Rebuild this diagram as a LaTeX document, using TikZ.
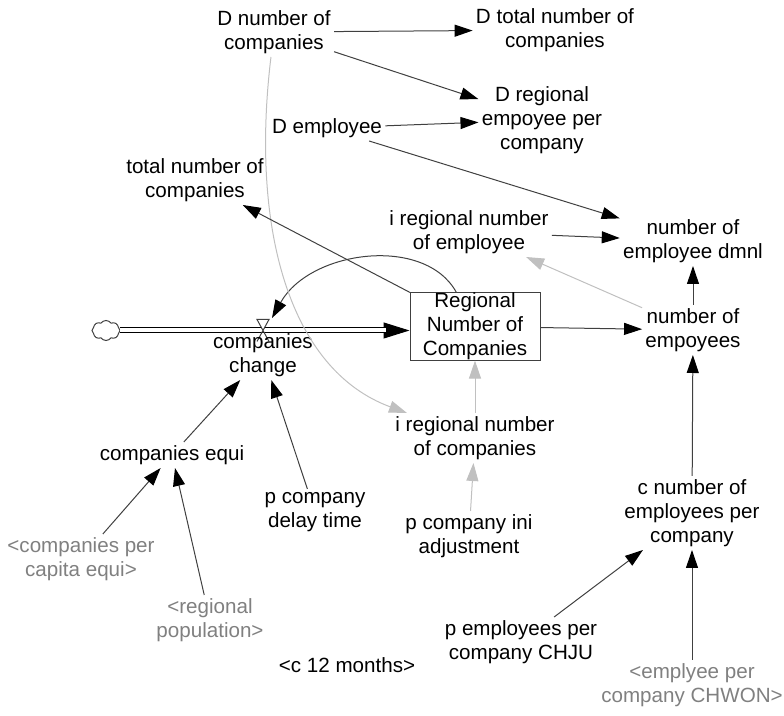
\documentclass[tikz,border=0pt]{standalone}
\usepackage{fontspec}
\setmainfont{Liberation Sans}
\usetikzlibrary{arrows.meta,shapes.symbols,calc}
\definecolor{linegray}{HTML}{404040}
\definecolor{lightline}{HTML}{C0C0C0}
\definecolor{shadowtext}{HTML}{808080}
\begin{document}
\begin{tikzpicture}[x=0.5pt,y=-0.5pt,
  lab/.style={align=center, inner sep=1.5pt, font=\fontsize{10.3}{12}\selectfont, text=black},
  shadowlab/.style={lab, text=shadowtext},
  conn/.style={draw=linegray, line width=0.5pt, -{Triangle[length=9pt,width=6pt,color=black]}},
  gconn/.style={draw=lightline, line width=0.5pt, -{Triangle[length=9pt,width=6pt,color=lightline]}},
  stockbox/.style={lab, draw=linegray, line width=0.5pt, minimum width=65pt, minimum height=33.5pt, inner sep=0pt},
  pipe/.style={draw=black, line width=0.5pt, double=white, double distance=2pt},
]
\useasboundingbox (0,0) rectangle (784,716);

% nodes
\node[lab] (dnc) at (274,32) {D number of\\companies};
\node[lab] (dtnc) at (555,30) {D total number of\\companies};
\node[lab] (drepc) at (542,120) {D regional\\empoyee per\\company};
\node[lab] (demp) at (327,128) {D employee};
\node[lab] (tnc) at (195,180) {total number of\\companies};
\node[lab] (ire) at (469,232) {i regional number\\of employee};
\node[lab] (dmnl) at (693,241) {number of\\employee dmnl};
\node[stockbox] (r) at (475,326.5) {Regional\\Number of\\Companies};
\node[lab] (noe) at (693,330) {number of\\empoyees};
\node[lab] (irnc) at (475,438) {i regional number\\of companies};
\node[lab] (ce) at (172,455) {companies equi};
\node[lab] (pcdt) at (315,512) {p company\\delay time};
\node[lab] (pcia) at (469,536) {p company ini\\adjustment};
\node[shadowlab] (cpce) at (81,559) {<companies per\\capita equi>};
\node[shadowlab] (rp) at (210,620) {<regional\\population>};
\node[lab] (c12) at (347,665) {<c 12 months>};
\node[lab] (pepc) at (521,642) {p employees per\\company CHJU};
\node[lab] (cnepc) at (692,513) {c number of\\employees per\\company};
\node[shadowlab] (epcc) at (692,685) {<emplyee per\\company CHWON>};

% cloud and flow
\node[cloud, cloud puffs=8, cloud puff arc=110, aspect=1.4, draw=linegray, line width=0.5pt,
      minimum width=14pt, minimum height=10pt, inner sep=0pt] (cloud) at (106,330.5) {};
\coordinate (valve) at (263,330.5);
\draw[line width=0.5pt, -{Triangle[length=13pt,width=8pt,color=black]}] (cloud.east) -- (cloud.east -| r.west);
\draw[pipe, shorten >=12pt] (cloud.east) -- (cloud.east -| r.west);
% valve (hourglass)
\draw[draw=linegray, line width=0.5pt, fill=white] ($(valve)+(-6,-11)$) -- ($(valve)+(6,-11)$) -- (valve) -- cycle;
\draw[draw=linegray, line width=0.5pt] (valve) -- ($(valve)+(-6,11)$) (valve) -- ($(valve)+(6,11)$);
\node[lab] (cc) at (263,355) {companies\\change};

% curved links
\coordinate (arcend) at (272,318);
\draw[conn] (r) .. controls (425,235) and (310,250) .. (arcend);
\draw[gconn] (dnc) .. controls (250,230) and (290,370) .. (irnc);

% straight links
\draw[conn] (dnc) -- (dtnc);
\draw[conn] (dnc) -- (drepc);
\draw[conn] (demp) -- (drepc);
\draw[conn] (demp) -- (dmnl);
\draw[conn] (ire) -- (dmnl);
\draw[conn] (r) -- (tnc);
\draw[conn] (r) -- (noe);
\draw[gconn] (noe) -- (ire);
\draw[conn] (noe) -- (dmnl);
\draw[conn] (cnepc) -- (noe);
\draw[conn] (pepc) -- (cnepc);
\draw[conn] (epcc) -- (cnepc);
\draw[gconn] (pcia) -- (irnc);
\draw[gconn] (irnc) -- (r);
\draw[conn] (ce) -- (cc);
\draw[conn] (pcdt) -- (cc);
\draw[conn] (cpce) -- (ce);
\draw[conn] (rp) -- (ce);
\end{tikzpicture}
\end{document}
